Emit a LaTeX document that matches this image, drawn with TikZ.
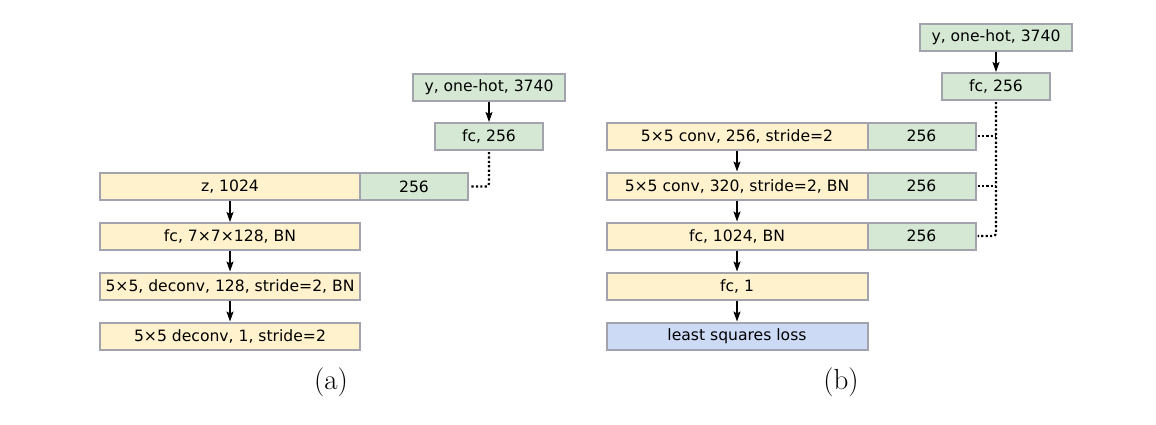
\documentclass[tikz,border=0pt]{standalone}
\usepackage{fontspec}
\setmainfont{DejaVu Sans}
\newfontfamily\capfont{Latin Modern Roman}
\usetikzlibrary{arrows.meta}
\definecolor{boxy}{HTML}{FFF2CC}
\definecolor{boxg}{HTML}{D5E8D4}
\definecolor{boxb}{HTML}{CCDAF6}
\definecolor{boxline}{HTML}{A3A3AE}
\tikzset{
  blk/.style={draw=boxline, line width=2pt, inner sep=0pt, outer sep=0pt, minimum height=27pt, font=\fontsize{15.6}{17}\selectfont},
  yb/.style={blk, fill=boxy},
  gb/.style={blk, fill=boxg},
  bb/.style={blk, fill=boxb},
  arr/.style={-{Stealth[length=10pt,width=7pt,inset=2pt]}, line width=1.6pt, shorten <=1pt, shorten >=1pt},
  dotln/.style={line width=2.2pt, dash pattern=on 2.2pt off 2.2pt, rounded corners=3pt},
  captxt/.style={font=\capfont\fontsize{29}{32}\selectfont, anchor=base, inner sep=0pt}
}
\begin{document}
\begin{tikzpicture}[x=1pt,y=-1pt]
\useasboundingbox (0,0) rectangle (1156,424);
% ---- (a)
\node[gb, minimum width=152pt] (ay) at (489,87.5) {y, one-hot, 3740};
\node[gb, minimum width=108pt] (afc) at (489,136.5) {fc, 256};
\node[yb, minimum width=260pt] (az) at (230,186.5) {z, 1024};
\node[gb, minimum width=108pt, anchor=west] (az2) at (az.east) {256};
\node[yb, minimum width=260pt] (a1) at (230,236.5) {fc, 7×7×128, BN};
\node[yb, minimum width=260pt] (a2) at (230,286) {5×5, deconv, 128, stride=2, BN};
\node[yb, minimum width=260pt] (a3) at (230,336) {5×5 deconv, 1, stride=2};
\draw[arr] (ay) -- (afc);
\draw[arr] (az) -- (a1);
\draw[arr] (a1) -- (a2);
\draw[arr] (a2) -- (a3);
\draw[dotln] ([yshift=-2pt]afc.south) |- ([xshift=2pt]az2.east);
\node[captxt] (la) at (331,389.5) {(a)};
% ---- (b)
\node[gb, minimum width=152pt] (by) at (996,37) {y, one-hot, 3740};
\node[gb, minimum width=108pt] (bfc) at (996,86.5) {fc, 256};
\node[yb, minimum width=261pt] (b1) at (737,136) {5×5 conv, 256, stride=2};
\node[gb, minimum width=108pt, anchor=west] (b1g) at (b1.east) {256};
\node[yb, minimum width=261pt] (b2) at (737,186) {5×5 conv, 320, stride=2, BN};
\node[gb, minimum width=108pt, anchor=west] (b2g) at (b2.east) {256};
\node[yb, minimum width=261pt] (b3) at (737,236) {fc, 1024, BN};
\node[gb, minimum width=108pt, anchor=west] (b3g) at (b3.east) {256};
\node[yb, minimum width=261pt] (b4) at (737,286) {fc, 1};
\node[bb, minimum width=261pt] (b5) at (737,336) {least squares loss};
\draw[arr] (by) -- (bfc);
\draw[arr] (b1) -- (b2);
\draw[arr] (b2) -- (b3);
\draw[arr] (b3) -- (b4);
\draw[arr] (b4) -- (b5);
\draw[dotln] ([yshift=-2pt]bfc.south) |- ([xshift=2pt]b3g.east);
\draw[dotln] ([xshift=2pt]b1g.east) -- (b1g.east -| bfc.south);
\draw[dotln] ([xshift=2pt]b2g.east) -- (b2g.east -| bfc.south);
\node[captxt] (lb) at (841,389.5) {(b)};
\end{tikzpicture}
\end{document}
